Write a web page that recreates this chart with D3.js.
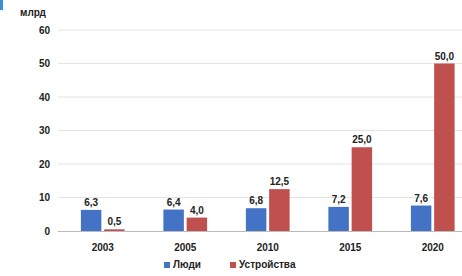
<!DOCTYPE html>
<html><head><meta charset="utf-8">
<script src="https://cdn.jsdelivr.net/npm/d3@7"></script>
<style>
body{margin:0;background:#fff;}
text{font-family:"Liberation Sans",Arial,sans-serif;font-weight:bold;fill:#222;}
</style></head>
<body><svg id="c" width="462" height="276"></svg>
<script>
const years = ["2003","2005","2010","2015","2020"];
const people = [6.3, 6.4, 6.8, 7.2, 7.6];
const devices = [0.5, 4.0, 12.5, 25.0, 50.0];
const seriesNames = ["Люди","Устройства"];
const colors = ["#4472c4","#c0504d"];
const yTicks = [0,10,20,30,40,50,60];
const unitLabel = "млрд";

const svg = d3.select("#c");
const y = d3.scaleLinear().domain([0,60]).range([231,30]);
const x0 = d3.scaleBand().domain(years).range([61.5,474]).paddingInner(0.47).paddingOuter(0.235);
const x1 = d3.scaleBand().domain([0,1]).range([0,x0.bandwidth()]).paddingInner(0.12);

// corner mark
svg.append("rect").attr("x",0).attr("y",0).attr("width",3).attr("height",10).attr("fill","#3a8fd8");

// gridlines
svg.append("g").selectAll("line").data(yTicks.filter(d=>d>0)).join("line")
  .attr("x1",58).attr("x2",462).attr("y1",d=>y(d)).attr("y2",d=>y(d))
  .attr("stroke","#e4e4e4").attr("stroke-width",1);

// y axis
const ya = svg.append("g").attr("transform","translate(50,0)")
  .call(d3.axisLeft(y).tickValues(yTicks).tickSize(0).tickPadding(0));
ya.select(".domain").remove();
ya.selectAll("text").attr("font-size",10).attr("font-family","Liberation Sans, Arial, sans-serif").attr("font-weight","bold").attr("fill","#222");

svg.append("text").attr("x",20).attr("y",16).attr("font-size",10).text(unitLabel);

// bars
const data = years.map((yr,i)=>({yr, vals:[people[i],devices[i]]}));
const g = svg.append("g").selectAll("g").data(data).join("g")
  .attr("transform",d=>`translate(${x0(d.yr)},0)`);
g.selectAll("rect").data(d=>d.vals.map((v,k)=>({v,k}))).join("rect")
  .attr("x",d=>x1(d.k)).attr("width",x1.bandwidth())
  .attr("y",d=>y(d.v)).attr("height",d=>y(0)-y(d.v))
  .attr("fill",d=>colors[d.k]);
g.selectAll("text.v").data(d=>d.vals.map((v,k)=>({v,k}))).join("text")
  .attr("class","v").attr("text-anchor","middle").attr("font-size",10)
  .attr("x",d=>x1(d.k)+x1.bandwidth()/2).attr("y",d=>y(d.v)-4)
  .text(d=>d.v.toFixed(1).replace(".",","));

// zero axis line
svg.append("line").attr("x1",58).attr("x2",462).attr("y1",y(0)+0.5).attr("y2",y(0)+0.5)
  .attr("stroke","#bbb").attr("stroke-width",1);

// x axis
const xa = svg.append("g").attr("transform",`translate(0,${y(0)})`)
  .call(d3.axisBottom(x0).tickSize(0).tickPadding(13));
xa.select(".domain").remove();
xa.selectAll("text").attr("font-size",10).attr("font-family","Liberation Sans, Arial, sans-serif").attr("font-weight","bold").attr("fill","#222");

// legend
const legX = [164, 230];
const lg = svg.append("g").selectAll("g").data(seriesNames).join("g")
  .attr("transform",(d,i)=>`translate(${legX[i]},268)`);
lg.append("rect").attr("x",0).attr("y",-6).attr("width",6).attr("height",6).attr("fill",(d,i)=>colors[i]);
lg.append("text").attr("x",9).attr("y",0).attr("font-size",10).text(d=>d);
</script></body></html>
